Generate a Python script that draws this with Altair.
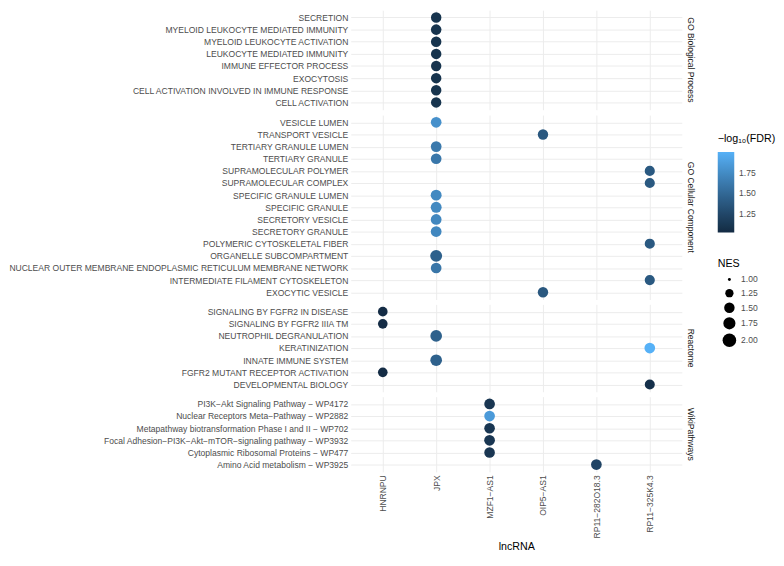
import altair as alt
import pandas as pd

FONT = "Liberation Sans"

lncrnas = ["HNRNPU", "JPX", "MZF1-AS1", "OIP5-AS1", "RP11-282O18.3", "RP11-325K4.3"]

# ---- GO Biological Process (top to bottom) ----
bp_terms = ["SECRETION", "MYELOID LEUKOCYTE MEDIATED IMMUNITY", "MYELOID LEUKOCYTE ACTIVATION",
            "LEUKOCYTE MEDIATED IMMUNITY", "IMMUNE EFFECTOR PROCESS", "EXOCYTOSIS",
            "CELL ACTIVATION INVOLVED IN IMMUNE RESPONSE", "CELL ACTIVATION"]
bp_lnc = ["JPX", "JPX", "JPX", "JPX", "JPX", "JPX", "JPX", "JPX"]
bp_nes = [1.50, 1.51, 1.50, 1.50, 1.49, 1.50, 1.50, 1.49]
bp_fdr = [1.10, 1.10, 1.10, 1.10, 1.10, 1.10, 1.10, 1.10]

# ---- GO Cellular Component ----
cc_terms = ["VESICLE LUMEN", "TRANSPORT VESICLE", "TERTIARY GRANULE LUMEN", "TERTIARY GRANULE",
            "SUPRAMOLECULAR POLYMER", "SUPRAMOLECULAR COMPLEX", "SPECIFIC GRANULE LUMEN",
            "SPECIFIC GRANULE", "SECRETORY VESICLE", "SECRETORY GRANULE",
            "POLYMERIC CYTOSKELETAL FIBER", "ORGANELLE SUBCOMPARTMENT",
            "NUCLEAR OUTER MEMBRANE ENDOPLASMIC RETICULUM MEMBRANE NETWORK",
            "INTERMEDIATE FILAMENT CYTOSKELETON", "EXOCYTIC VESICLE"]
cc_lnc = ["JPX", "OIP5-AS1", "JPX", "JPX", "RP11-325K4.3", "RP11-325K4.3", "JPX", "JPX", "JPX",
          "JPX", "RP11-325K4.3", "JPX", "JPX", "RP11-325K4.3", "OIP5-AS1"]
cc_nes = [1.53, 1.49, 1.53, 1.53, 1.46, 1.46, 1.56, 1.56, 1.54, 1.54, 1.46, 1.71, 1.53, 1.46, 1.49]
cc_fdr = [1.78, 1.38, 1.62, 1.61, 1.39, 1.39, 1.73, 1.73, 1.72, 1.72, 1.39, 1.45, 1.60, 1.39, 1.38]

# ---- Reactome ----
re_terms = ["SIGNALING BY FGFR2 IN DISEASE", "SIGNALING BY FGFR2 IIIA TM", "NEUTROPHIL DEGRANULATION",
            "KERATINIZATION", "INNATE IMMUNE SYSTEM", "FGFR2 MUTANT RECEPTOR ACTIVATION",
            "DEVELOPMENTAL BIOLOGY"]
re_lnc = ["HNRNPU", "HNRNPU", "JPX", "RP11-325K4.3", "JPX", "HNRNPU", "RP11-325K4.3"]
re_nes = [1.40, 1.40, 1.67, 1.53, 1.67, 1.40, 1.44]
re_fdr = [1.04, 1.04, 1.45, 2.00, 1.45, 1.04, 1.07]

# ---- WikiPathways ----
wp_terms = ["PI3K\u2212Akt Signaling Pathway \u2212 WP4172", "Nuclear Receptors Meta\u2212Pathway \u2212 WP2882",
            "Metapathway biotransformation Phase I and II \u2212 WP702",
            "Focal Adhesion\u2212PI3K\u2212Akt\u2212mTOR\u2212signaling pathway \u2212 WP3932",
            "Cytoplasmic Ribosomal Proteins \u2212 WP477", "Amino Acid metabolism \u2212 WP3925"]
wp_lnc = ["MZF1-AS1", "MZF1-AS1", "MZF1-AS1", "MZF1-AS1", "MZF1-AS1", "RP11-282O18.3"]
wp_nes = [1.53, 1.53, 1.52, 1.54, 1.52, 1.53]
wp_fdr = [1.12, 1.85, 1.12, 1.12, 1.12, 1.23]

panels_src = [
    ("GO Biological Process", bp_terms, bp_lnc, bp_nes, bp_fdr),
    ("GO Cellular Component", cc_terms, cc_lnc, cc_nes, cc_fdr),
    ("Reactome", re_terms, re_lnc, re_nes, re_fdr),
    ("WikiPathways", wp_terms, wp_lnc, wp_nes, wp_fdr),
]

x_labels = [l.replace("-", "\u2212") for l in lncrnas]
lab_map = dict(zip(lncrnas, x_labels))

STEP_X = 55
STEP_Y = 12.5
W = STEP_X * (len(lncrnas) - 1 + 1.2)

color_scale = alt.Scale(domain=[1.03, 2.0], range=["#132B43", "#56B1F7"], interpolate="lab")
# circle diameters follow ggplot's area palette (3px .. 14px); vega symbol size = diameter^2
size_scale = alt.Scale(domain=[1.0, 1.0625, 1.25, 1.5, 1.75, 2.0],
                       range=[9.0, 33.1, 72.25, 116.2, 157.0, 196.0], zero=False)

color_legend = alt.Legend(title="\u2212log\u2081\u2080(FDR)", orient="none", legendX=378, legendY=127,
                          values=[1.25, 1.5, 1.75], format=".2f", gradientLength=83,
                          gradientThickness=17, titlePadding=8, labelOffset=5,
                          gradientStrokeWidth=0, direction="vertical")
size_legend = alt.Legend(title="NES", orient="none", legendX=378, legendY=256,
                         values=[1.0, 1.25, 1.5, 1.75, 2.0], format=".2f",
                         symbolType="circle", symbolFillColor="black", symbolStrokeWidth=0,
                         symbolOpacity=1, titlePadding=6, labelOffset=5, rowPadding=4,
                         symbolOffset=5)

charts = []
for i, (cat, terms, lnc, nes, fdr) in enumerate(panels_src):
    last = i == len(panels_src) - 1
    df = pd.DataFrame({"term": terms, "lncRNA": [lab_map[v] for v in lnc], "NES": nes, "FDR": fdr})
    h = STEP_Y * (len(terms) - 1 + 1.2)
    if last:
        x_axis = alt.Axis(title="lncRNA", labelAngle=-90, titleFontSize=11, titleColor="black",
                          titleFontWeight="normal", titlePadding=3, labelPadding=3)
    else:
        x_axis = alt.Axis(title=None, labels=False)
    pts = alt.Chart(df).mark_circle(opacity=1).encode(
        x=alt.X("lncRNA:N", scale=alt.Scale(type="point", domain=x_labels, padding=0.6), axis=x_axis),
        y=alt.Y("term:N", scale=alt.Scale(type="point", domain=terms, padding=0.6),
                axis=alt.Axis(title=None, labelPadding=3)),
        color=alt.Color("FDR:Q", scale=color_scale, legend=color_legend),
        size=alt.Size("NES:Q", scale=size_scale, legend=size_legend),
    )
    strip = alt.Chart(pd.DataFrame({"s": [cat]})).mark_text(
        angle=90, align="center", baseline="middle", fontSize=8.8, color="#1A1A1A", font=FONT
    ).encode(x=alt.value(W + 9), y=alt.value(h / 2), text="s:N")
    charts.append(alt.layer(pts, strip).properties(width=W, height=h))

chart = alt.vconcat(*charts, spacing=5).resolve_scale(
    y="independent", x="shared", color="shared", size="shared"
).resolve_axis(x="independent", y="independent").properties(
    padding={"left": 0, "top": -6, "right": 0, "bottom": 0}, background="white"
).configure_view(stroke=None).configure_axis(
    labelFont=FONT, titleFont=FONT, labelFontSize=8.8, labelColor="#4D4D4D", labelLimit=0,
    ticks=False, domain=False, grid=True, gridColor="#EBEBEB", gridWidth=1
).configure_legend(
    labelFont=FONT, titleFont=FONT, labelFontSize=8.8, labelColor="#4D4D4D",
    titleFontSize=11, titleColor="black", titleFontWeight="normal"
)

chart.save("out.html", embed_options={"renderer": "svg", "actions": False})
